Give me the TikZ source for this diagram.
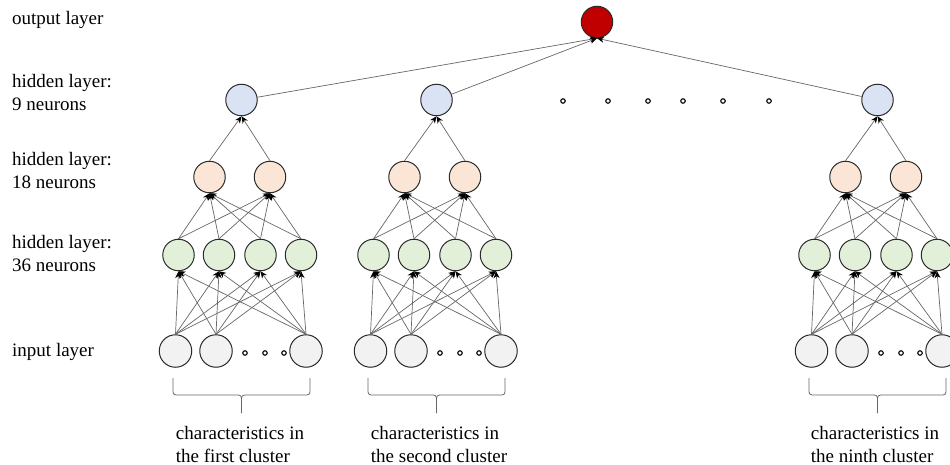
\documentclass[tikz,border=0pt]{standalone}
\usepackage{fontspec}
\setmainfont{Liberation Serif}
\usetikzlibrary{arrows.meta}
\definecolor{cin}{HTML}{F2F2F2}
\definecolor{cgreen}{HTML}{E2F0D9}
\definecolor{corange}{HTML}{FBE5D6}
\definecolor{cblue}{HTML}{DAE3F3}
\definecolor{cred}{HTML}{C00000}
\definecolor{cline}{HTML}{666666}
\definecolor{cbord}{HTML}{2A2A2A}
\begin{document}
\begin{tikzpicture}[x=1pt,y=-1pt,
  neuron/.style={circle,draw=cbord,line width=1pt,minimum size=31.5pt,inner sep=0pt},
  innode/.style={neuron,fill=cin,minimum size=32.5pt},
  gnode/.style={neuron,fill=cgreen},
  onode/.style={neuron,fill=corange},
  bnode/.style={neuron,fill=cblue},
  rnode/.style={neuron,fill=cred},
  dotnode/.style={circle,draw=black,line width=1.1pt,fill=white,minimum size=4.5pt,inner sep=0pt},
  edge/.style={draw=cline,line width=0.7pt,-{Stealth[length=7pt,width=6pt,color=black]}},
  lbl/.style={font=\fontsize{19}{23}\selectfont,align=left,anchor=west,inner sep=0pt},
  clbl/.style={font=\fontsize{19}{23}\selectfont,align=left,inner sep=0pt},
  brace/.style={draw=cline,line width=0.8pt,rounded corners=3pt}]
\useasboundingbox (0,0) rectangle (950,465);

% left labels
\node[lbl] (lout) at (12,20) {output layer};
\node[lbl] (l9) at (12,93) {hidden layer:\\9 neurons};
\node[lbl] (l18) at (12,171) {hidden layer:\\18 neurons};
\node[lbl] (l36) at (12,254) {hidden layer:\\36 neurons};
\node[lbl] (lin) at (12,352) {input layer};

% output node
\node[rnode] (out) at (597,22) {};

% dots between second and ninth cluster
\foreach \k/\x in {1/563,2/608,3/648,4/683,5/723,6/769}
  \node[dotnode] (hd\k) at (\x,101) {};

\foreach \c/\dx/\cx/\word in {1/0/240/first,2/195/439/second,3/636/875/ninth}{
  % input layer
  \node[innode] (i\c a) at (\dx+175.5,351) {};
  \node[innode] (i\c b) at (\dx+216,351) {};
  \node[innode] (i\c c) at (\dx+306,351) {};
  \node[dotnode] (d\c a) at (\dx+245,353) {};
  \node[dotnode] (d\c b) at (\dx+265,353) {};
  \node[dotnode] (d\c c) at (\dx+284,353) {};
  % 36 neurons
  \node[gnode] (g\c a) at (\dx+178.5,255) {};
  \node[gnode] (g\c b) at (\dx+219,255) {};
  \node[gnode] (g\c c) at (\dx+260.5,255) {};
  \node[gnode] (g\c d) at (\dx+301,255) {};
  % 18 neurons
  \node[onode] (o\c a) at (\dx+209.5,177) {};
  \node[onode] (o\c b) at (\dx+270,177) {};
  % 9 neurons
  \node[bnode] (b\c) at (\dx+241.5,100) {};
  % edges
  \foreach \s in {a,b,c}
    \foreach \t in {a,b,c,d}
      \draw[edge] (i\c\s.north) -- (g\c\t.south);
  \foreach \s in {a,b,c,d}
    \foreach \t in {a,b}
      \draw[edge] (g\c\s.north) -- (o\c\t.south);
  \foreach \s in {a,b}
    \draw[edge] (o\c\s.north) -- (b\c.south);
  \draw[edge] (b\c) -- (out.south);
  % brace
  \coordinate (bl\c) at (\dx+173,378);
  \coordinate (br\c) at (\dx+310,378);
  \coordinate (bt\c) at (\dx+241.5,413);
  \draw[brace] (bl\c) |- (\dx+241.5,395) -- (bt\c);
  \draw[brace] (br\c) |- (\dx+241.5,395) -- (bt\c);
  % caption
  \node[clbl] (cap\c) at (\cx,444) {characteristics in\\the \word{} cluster};
}
\end{tikzpicture}
\end{document}
